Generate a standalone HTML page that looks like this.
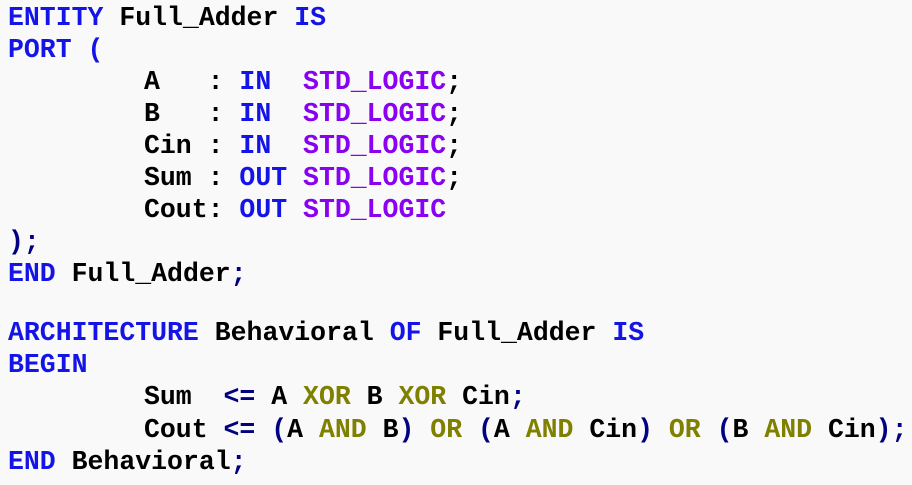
<!DOCTYPE html>
<html><head><meta charset="utf-8"><style>
body{margin:0;width:912px;height:485px;background:#f9f9f9;overflow:hidden;position:relative}
.l{position:absolute;left:8px;height:32px;line-height:32px;font-family:"Liberation Mono",monospace;font-weight:bold;font-size:26.5px;white-space:pre;color:#000;letter-spacing:0}
.k{color:#1414e6}.p{color:#8a00f0}.o{color:#808000}.n{color:#000080}
</style></head><body>
<div class="l" style="top:2px"><span class="k">ENTITY</span> Full_Adder <span class="k">IS</span></div>
<div class="l" style="top:34px"><span class="k">PORT (</span></div>
<div class="l" style="top:66px;left:144px">A   : <span class="k">IN</span>  <span class="p">STD_LOGIC</span>;</div>
<div class="l" style="top:98px;left:144px">B   : <span class="k">IN</span>  <span class="p">STD_LOGIC</span>;</div>
<div class="l" style="top:130px;left:144px">Cin : <span class="k">IN</span>  <span class="p">STD_LOGIC</span>;</div>
<div class="l" style="top:162px;left:144px">Sum : <span class="k">OUT</span> <span class="p">STD_LOGIC</span>;</div>
<div class="l" style="top:194px;left:144px">Cout: <span class="k">OUT</span> <span class="p">STD_LOGIC</span></div>
<div class="l" style="top:226px"><span class="n">);</span></div>
<div class="l" style="top:258px"><span class="k">END</span> Full_Adder<span class="n">;</span></div>
<div class="l" style="top:317px"><span class="k">ARCHITECTURE</span> Behavioral <span class="k">OF</span> Full_Adder <span class="k">IS</span></div>
<div class="l" style="top:349px"><span class="k">BEGIN</span></div>
<div class="l" style="top:381px;left:144px">Sum  <span class="n">&lt;=</span> A <span class="o">XOR</span> B <span class="o">XOR</span> Cin<span class="n">;</span></div>
<div class="l" style="top:414px;left:144px">Cout <span class="n">&lt;=</span> <span class="n">(</span>A <span class="o">AND</span> B<span class="n">)</span> <span class="o">OR</span> <span class="n">(</span>A <span class="o">AND</span> Cin<span class="n">)</span> <span class="o">OR</span> <span class="n">(</span>B <span class="o">AND</span> Cin<span class="n">);</span></div>
<div class="l" style="top:446px"><span class="k">END</span> Behavioral<span class="n">;</span></div>
</body></html>
